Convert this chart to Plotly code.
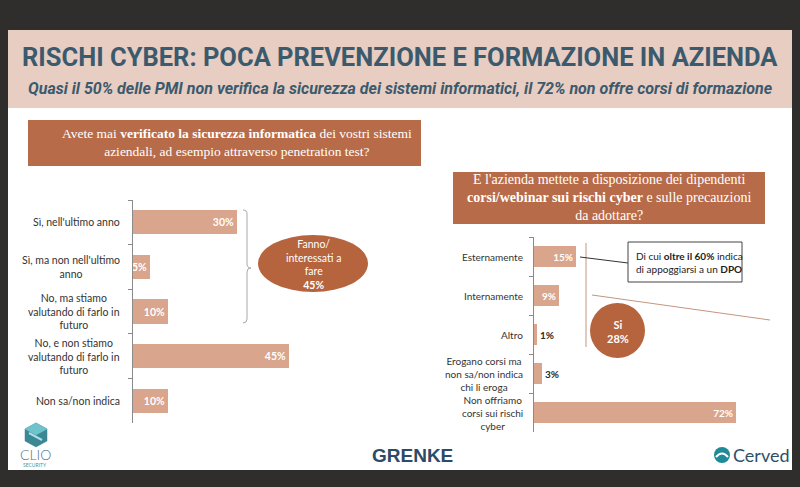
import plotly.graph_objects as go

W, H = 800, 487
def X(p): return p / W
def Y(p): return 1 - p / H

# ---------------- data ----------------
left_categories = [
    "Sì, nell'ultimo anno",
    "Sì, ma non nell'ultimo<br>anno",
    "No, ma stiamo<br>valutando di farlo in<br>futuro",
    "No, e non stiamo<br>valutando di farlo in<br>futuro",
    "Non sa/non indica",
]
left_values = [30, 5, 10, 45, 10]

right_categories = [
    "Esternamente",
    "Internamente",
    "Altro",
    "Erogano corsi ma<br>non sa/non indica<br>chi li eroga",
    "Non offriamo<br>corsi sui rischi<br>cyber",
]
right_values = [15, 9, 1, 3, 72]
right_text_pos = ["inside", "inside", "outside", "outside", "inside"]

# ---------------- style ----------------
DARK = "#2f2e2c"
HEADER = "#e8cdc2"
TITLE_C = "#3b5a6d"
QBOX = "#b86b48"
BAR = "#d9a58c"
OVAL = "#b5643d"
LABEL_C = "#333333"
LBL_FONT = "Lato, 'Open Sans', sans-serif"
SERIF = "'Liberation Serif', 'DejaVu Serif', serif"
HEAD_FONT = "Roboto, 'Liberation Sans', sans-serif"

fig = go.Figure()

fig.add_trace(go.Bar(
    y=left_categories, x=left_values, orientation="h",
    marker=dict(color=BAR, line=dict(width=0)), width=0.54,
    texttemplate="%{x}%", textposition="inside", insidetextanchor="end",
    constraintext="none", textangle=0,
    insidetextfont=dict(color="white", size=10.5, family=LBL_FONT, weight="bold"),
    xaxis="x", yaxis="y", hoverinfo="skip", showlegend=False,
))
fig.add_trace(go.Bar(
    y=right_categories, x=right_values, orientation="h",
    marker=dict(color=BAR, line=dict(width=0)), width=0.53,
    texttemplate="%{x}%", textposition=right_text_pos, insidetextanchor="end",
    constraintext="none", cliponaxis=False, textangle=0,
    insidetextfont=dict(color="white", size=10, family=LBL_FONT, weight="bold"),
    outsidetextfont=dict(color="#2a2a2a", size=10, family=LBL_FONT, weight="bold"),
    xaxis="x2", yaxis="y2", hoverinfo="skip", showlegend=False,
))

xa = dict(showgrid=False, zeroline=False, showticklabels=False, showline=False, ticks="")
ya = dict(type="category", showgrid=False, zeroline=False, showticklabels=False,
          showline=True, linecolor="#8a8a8a", linewidth=1,
          ticks="outside", tickson="boundaries", ticklen=4, tickcolor="#8a8a8a")

fig.update_layout(
    width=W, height=H, margin=dict(l=0, r=0, t=0, b=0),
    paper_bgcolor=DARK, plot_bgcolor="rgba(0,0,0,0)",
    bargap=0,
    xaxis=dict(xa, domain=[X(133), X(306.5)], range=[0, 50], anchor="y"),
    yaxis=dict(ya, domain=[Y(423), Y(200)], range=[4.5, -0.5], anchor="x"),
    xaxis2=dict(xa, domain=[X(534), X(758)], range=[0, 80], anchor="y2"),
    yaxis2=dict(ya, domain=[Y(432), Y(237)], range=[4.5, -0.5], anchor="x2"),
)

shapes = []
def rect(x0, y0, x1, y1, fill, line=None, lw=0, layer="below"):
    shapes.append(dict(type="rect", xref="paper", yref="paper",
                       x0=X(x0), x1=X(x1), y0=Y(y1), y1=Y(y0),
                       fillcolor=fill, line=dict(color=line or fill, width=lw), layer=layer))
def line(x0, y0, x1, y1, color, w=1):
    shapes.append(dict(type="line", xref="paper", yref="paper",
                       x0=X(x0), x1=X(x1), y0=Y(y0), y1=Y(y1),
                       line=dict(color=color, width=w)))
def oval(x0, y0, x1, y1, fill):
    shapes.append(dict(type="circle", xref="paper", yref="paper",
                       x0=X(x0), x1=X(x1), y0=Y(y1), y1=Y(y0),
                       fillcolor=fill, line=dict(width=0)))
def P(a, b):
    return f"{X(a):.5f},{Y(b):.5f}"
def polygon(pts, color):
    s = "M " + P(*pts[0]) + " " + " ".join("L " + P(*p) for p in pts[1:]) + " Z"
    shapes.append(dict(type="path", xref="paper", yref="paper", path=s,
                       line=dict(color=color, width=0.5), fillcolor=color))
def rawpath(s, color, w=1):
    shapes.append(dict(type="path", xref="paper", yref="paper", path=s,
                       line=dict(color=color, width=w), fillcolor="rgba(0,0,0,0)"))

# backgrounds
rect(8, 108, 792, 470, "white")
rect(8, 30, 792, 108, HEADER)
# question boxes
rect(28, 120, 421, 166, QBOX)
rect(453, 172, 765, 224, QBOX)

# brace
rawpath("M " + P(243, 210) + " Q " + P(247, 210) + " " + P(247, 214) +
        " L " + P(247, 264) + " Q " + P(247, 268) + " " + P(251, 268) +
        " Q " + P(247, 268) + " " + P(247, 272) + " L " + P(247, 319) +
        " Q " + P(247, 323) + " " + P(243, 323), "#a8a8a8")
# oval
oval(258, 235, 368, 292, OVAL)
# right decorations
line(586, 243, 586, 347, "#c49580")
line(592, 295, 770, 320, "#c49580")
oval(590, 303, 645, 358, OVAL)
line(580, 257, 628, 263, "#333333")
rect(628, 242, 742, 282, "white", line="#444444", lw=1, layer="above")

# CLIO logo hexagon
polygon([(36, 423), (47, 429), (47, 441), (36, 447), (25, 441), (25, 429)], "#3b8794")
polygon([(36, 423), (47, 429), (36, 435), (25, 429)], "#6fc3cc")
rawpath("M " + P(29, 433) + " L " + P(42, 440), "#a9e0e6", w=2)
# Cerved icon
oval(714, 447, 730, 463, "#1f8a98")
rawpath("M " + P(716, 457) + " Q " + P(722, 450) + " " + P(728, 457), "white", w=2)

fig.update_layout(shapes=shapes)

ann = []
def text(x, y, s, size, color, family=LBL_FONT, xanchor="center", align="center",
         yanchor="middle", weight=None, style=None, yref="paper", xref="paper"):
    f = dict(size=size, color=color, family=family)
    if weight: f["weight"] = weight
    if style: f["style"] = style
    ann.append(dict(x=X(x) if xref == "paper" else x,
                    y=Y(y) if yref == "paper" else y,
                    xref=xref, yref=yref, text=s, showarrow=False,
                    xanchor=xanchor, yanchor=yanchor, align=align, font=f))

text(400, 57, "RISCHI CYBER: POCA PREVENZIONE E FORMAZIONE IN AZIENDA", 25.5, TITLE_C,
     family=HEAD_FONT, weight="bold")
text(400, 88, "Quasi il 50% delle PMI non verifica la sicurezza dei sistemi informatici, il 72% non offre corsi di formazione",
     16, TITLE_C, family=HEAD_FONT, weight="bold", style="italic")

text(237, 143, "Avete mai <b>verificato la sicurezza informatica</b> dei vostri sistemi<br>aziendali, ad esempio attraverso penetration test?",
     13.5, "white", family=SERIF)
text(609, 198, "E l'azienda mettete a disposizione dei dipendenti<br><b>corsi/webinar sui rischi cyber</b> e sulle precauzioni<br>da adottare?",
     14, "white", family=SERIF)

for c in left_categories:
    text(122, c, c, 10.5, LABEL_C, xanchor="right", yref="y")
for c in right_categories:
    text(525, c, c, 10, LABEL_C, xanchor="right", yref="y2")

text(313, 264, "Fanno/<br>interessati a<br>fare<br><b>45%</b>", 10.5, "white")
text(618, 331, "<b>Si<br>28%</b>", 11, "white")
text(634, 262, "Di cui <b>oltre il 60%</b> indica<br>di appoggiarsi a un <b>DPO</b>", 10, "#222222",
     xanchor="left", align="left")

# logos text
text(35, 454, "CLIO", 14, "#4f7282", weight=300)
text(35, 465, "SECURITY", 5, "#3b9aa5")
text(412, 455, "GRENKE", 19, "#2d4a66", family="'Liberation Sans', Arial, sans-serif", weight="bold")
text(731, 455, "Cerved", 18, "#2c5166", family="Lato, sans-serif", xanchor="left")

fig.update_layout(annotations=ann)

fig.write_html("out.html")
